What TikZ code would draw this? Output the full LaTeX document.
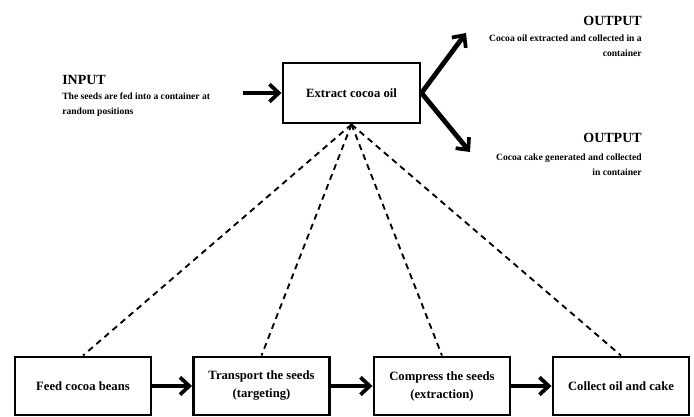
\documentclass[tikz,border=0pt]{standalone}
\usepackage{fontspec}
\setmainfont{Liberation Serif}
\usetikzlibrary{arrows.meta}

\begin{document}
\begin{tikzpicture}[x=0.75pt,y=0.75pt,yscale=-1,xscale=1,
  stagebox/.style={draw, line width=2.2pt, minimum width=102pt, minimum height=43.5pt, align=center, inner sep=0pt, font=\fontsize{9.5}{13.5}\selectfont\bfseries},
  flowarrow/.style={line width=3.6pt, -{Straight Barb[length=7pt,width=13pt,line width=2.8pt]}},
  linkline/.style={line width=1.4pt, dash pattern={on 4.5pt off 3.5pt}},
  headtext/.style={inner sep=0pt, font=\fontsize{10.5}{12}\selectfont\bfseries},
  smalltext/.style={inner sep=0pt, font=\fontsize{7.2}{11.25}\selectfont\bfseries}]
\useasboundingbox (0,0) rectangle (694,417);

% Main process box
\node[stagebox, minimum width=102.75pt, minimum height=45pt] (extract) at (351.5,93) {Extract cocoa oil};

% Stage boxes
\node[stagebox] (feed) at (83,386) {Feed cocoa beans};
\node[stagebox] (transport) at (261.5,386) {Transport the seeds\\(targeting)};
\node[stagebox] (compress) at (442,386) {Compress the seeds\\(extraction)};
\node[stagebox] (collect) at (621,386) {Collect oil and cake};

% Text Node
\node[headtext, anchor=west] (intitle) at (62,80) {INPUT};
% Text Node
\node[smalltext, anchor=west, align=left] (indesc) at (62,104.5) {The seeds are fed into a container at\\random positions};
% Text Node
\node[headtext, anchor=east] (outtitle1) at (642,21) {OUTPUT};
% Text Node
\node[smalltext, anchor=east, align=right] (outdesc1) at (642,45.5) {Cocoa oil extracted and collected in a\\container};
% Text Node
\node[headtext, anchor=east] (outtitle2) at (642,138) {OUTPUT};
% Text Node
\node[smalltext, anchor=east, align=right] (outdesc2) at (642,164.5) {Cocoa cake generated and collected\\in container};

% Input and output arrows
\coordinate (infeed) at (243,93);
\coordinate (oiltip) at (466,33);
\coordinate (caketip) at (470,152);
\draw[flowarrow] (infeed) -- (extract.west);
\draw[flowarrow] (extract.east) -- (oiltip);
\draw[flowarrow] (extract.east) -- (caketip);

% Stage arrows
\foreach \a/\b in {feed/transport, transport/compress, compress/collect}
  \draw[flowarrow] (\a) -- (\b);

% Dashed links
\foreach \s in {feed, transport, compress, collect}
  \draw[linkline] (extract.south) -- (\s.north);
\end{tikzpicture}
\end{document}
